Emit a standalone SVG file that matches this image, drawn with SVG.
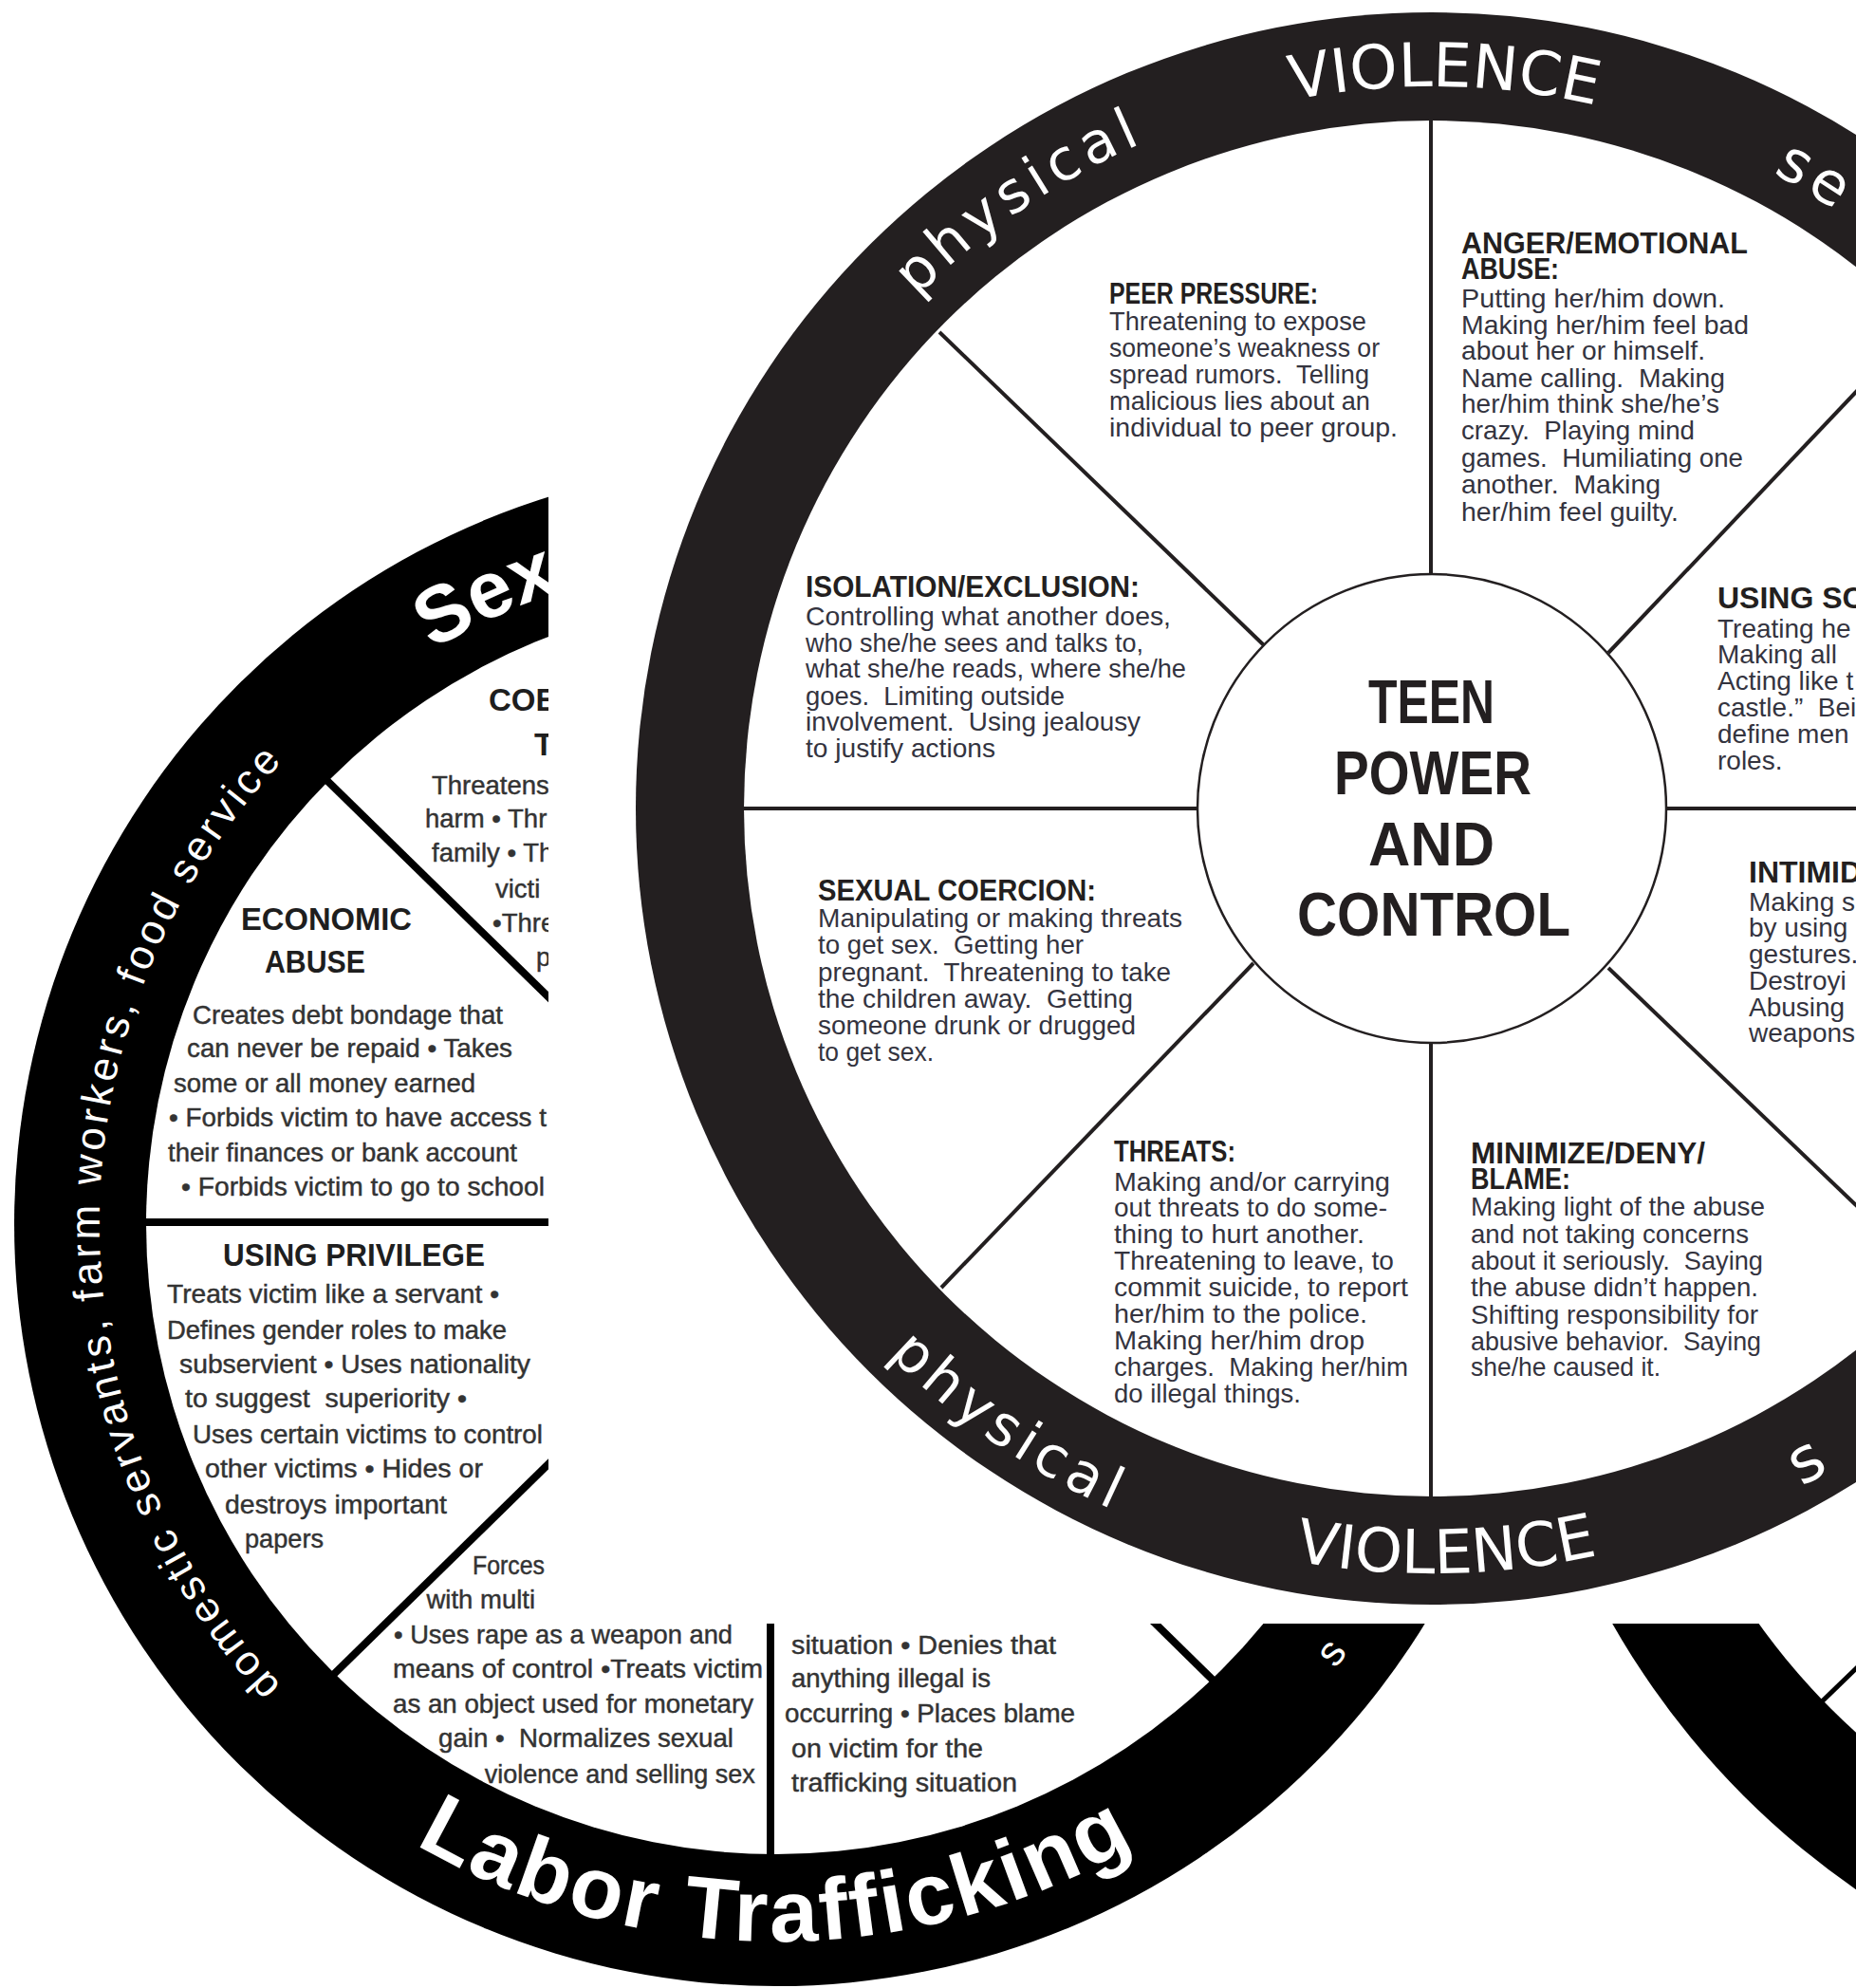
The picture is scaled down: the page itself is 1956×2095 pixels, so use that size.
<svg xmlns="http://www.w3.org/2000/svg" width="1956" height="2095" viewBox="0 0 1956 2095">
<defs>
<style>
text{font-family:"Liberation Sans",Arial,sans-serif;white-space:pre}
.lb{font-size:27.5px;fill:#333;stroke:#333;stroke-width:0.45}
.lh{font-size:33px;font-weight:bold;fill:#1e1e1e}
.tb{font-size:28px;fill:#34343f}
.th{font-size:32px;font-weight:bold;fill:#231f20}
.hub{font-size:65px;font-weight:bold;fill:#231f20}
.lring{fill:#fff}
.tring{font-family:"DejaVu Sans","Liberation Sans",sans-serif;fill:#fff}
.lsp{stroke:#000;stroke-width:8;fill:none}
.tsp{stroke:#231f20;stroke-width:4;fill:none}
</style>
<path id="p-lab" d="M 163.3 1668 A 756 756 0 0 0 1472.7 1668"/>
<path id="p-sex" d="M 456 685 A 705 705 0 0 1 1271.2 750"/>
<path id="p-dom" d="M 296.5 1776.3 A 713 713 0 0 1 574.1 620"/>
<path id="p-ls" d="M 1407.3 1758.7 A 753 753 0 0 0 1470.1 913.5"/>
<path id="p-tv1" d="M 856.7 460.1 A 761 761 0 0 1 2174.6 483.1"/>
<path id="p-tp1" d="M 746.1 908 A 765 765 0 0 1 1842 163.3"/>
<path id="p-tse" d="M 1868.2 182.2 A 760 760 0 0 1 2223.2 592.1"/>
<path id="p-tv2" d="M 818.8 1268.3 A 806 806 0 0 0 2214.7 1241.5"/>
<path id="p-tp2" d="M 699.5 788.3 A 812 812 0 0 0 1858.6 1584.9"/>
<path id="p-ts2" d="M 1898.7 1566.6 A 816 816 0 0 0 2312.6 993.7"/>
</defs>
<rect x="0" y="0" width="1956" height="2095" fill="#fff"/>

<!-- third wheel (bottom right, partial) -->
<g id="third-wheel">
<circle cx="2440" cy="1290" r="852" fill="#000"/>
<circle cx="2440" cy="1290" r="722" fill="#fff"/>
</g>
<g id="third-spokes">
<line x1="1914" y1="1799" x2="2100" y2="1619" stroke="#000" stroke-width="5"/>
</g>

<!-- labor trafficking wheel -->
<g id="labor-wheel">
<circle cx="818" cy="1290" r="803" fill="#000"/>
<circle cx="818" cy="1290" r="664" fill="#fff"/>
</g>
<g id="labor-spokes" class="lsp">
<line x1="340" y1="818" x2="700" y2="1170"/>
<line x1="150" y1="1288" x2="700" y2="1288"/>
<line x1="345" y1="1771" x2="640" y2="1482"/>
<line x1="812" y1="1690" x2="812" y2="1962"/>
<line x1="1180" y1="1674" x2="1290" y2="1782"/>
</g>
<g id="labor-ring-labels">
<text class="lring" font-size="92" font-weight="bold" letter-spacing="3"><textPath href="#p-lab" startOffset="50%" text-anchor="middle">Labor Trafficking</textPath></text>
<text class="lring" font-size="84" font-weight="bold"><textPath href="#p-sex">Sex</textPath></text>
<text class="lring" font-size="44" letter-spacing="4"><textPath href="#p-dom">domestic servants, farm workers, food service</textPath></text>
<text class="lring" font-size="44"><textPath href="#p-ls">s</textPath></text>
</g>
<g id="coercion-threats">
<text class="lh" x="515" y="749">COE</text>
<text class="lh" x="563" y="796">T</text>
<text class="lb" x="455" y="837">Threatens</text>
<text class="lb" x="448" y="872">harm • Thr</text>
<text class="lb" x="455" y="908">family • Th</text>
<text class="lb" x="522" y="946">victi</text>
<text class="lb" x="519" y="982">•Thre</text>
<text class="lb" x="565" y="1018">p</text>
</g>
<g id="economic-abuse">
<text class="lh" x="254" y="980" textLength="180" lengthAdjust="spacingAndGlyphs">ECONOMIC</text>
<text class="lh" x="279" y="1024.5" textLength="106" lengthAdjust="spacingAndGlyphs">ABUSE</text>
<text class="lb" x="203" y="1079" textLength="327" lengthAdjust="spacingAndGlyphs">Creates debt bondage that</text>
<text class="lb" x="197" y="1114" textLength="343" lengthAdjust="spacingAndGlyphs">can never be repaid • Takes</text>
<text class="lb" x="183" y="1151" textLength="318" lengthAdjust="spacingAndGlyphs">some or all money earned</text>
<text class="lb" x="178" y="1187" textLength="398" lengthAdjust="spacingAndGlyphs">• Forbids victim to have access t</text>
<text class="lb" x="177" y="1224" textLength="368" lengthAdjust="spacingAndGlyphs">their finances or bank account</text>
<text class="lb" x="191" y="1260" textLength="383" lengthAdjust="spacingAndGlyphs">• Forbids victim to go to school</text>
</g>
<g id="using-privilege">
<text class="lh" x="235" y="1333.5" textLength="276" lengthAdjust="spacingAndGlyphs">USING PRIVILEGE</text>
<text class="lb" x="176" y="1373" textLength="350" lengthAdjust="spacingAndGlyphs">Treats victim like a servant •</text>
<text class="lb" x="176" y="1410.6" textLength="358" lengthAdjust="spacingAndGlyphs">Defines gender roles to make</text>
<text class="lb" x="189" y="1446.7" textLength="370" lengthAdjust="spacingAndGlyphs">subservient • Uses nationality</text>
<text class="lb" x="195" y="1482.8" textLength="297" lengthAdjust="spacingAndGlyphs">to suggest  superiority •</text>
<text class="lb" x="203" y="1521" textLength="369" lengthAdjust="spacingAndGlyphs">Uses certain victims to control</text>
<text class="lb" x="216" y="1557" textLength="293" lengthAdjust="spacingAndGlyphs">other victims • Hides or</text>
<text class="lb" x="237" y="1594.8" textLength="234" lengthAdjust="spacingAndGlyphs">destroys important</text>
<text class="lb" x="258" y="1631" textLength="83" lengthAdjust="spacingAndGlyphs">papers</text>
</g>
<g id="sexual-abuse">
<text class="lb" x="498" y="1659" textLength="76" lengthAdjust="spacingAndGlyphs">Forces</text>
<text class="lb" x="449.5" y="1695">with multi</text>
<text class="lb" x="415" y="1731.7" textLength="357" lengthAdjust="spacingAndGlyphs">• Uses rape as a weapon and</text>
<text class="lb" x="414" y="1768" textLength="390" lengthAdjust="spacingAndGlyphs">means of control •Treats victim</text>
<text class="lb" x="414" y="1805" textLength="380" lengthAdjust="spacingAndGlyphs">as an object used for monetary</text>
<text class="lb" x="462" y="1840.7" textLength="311" lengthAdjust="spacingAndGlyphs">gain •  Normalizes sexual</text>
<text class="lb" x="510.7" y="1879" textLength="285" lengthAdjust="spacingAndGlyphs">violence and selling sex</text>
</g>
<g id="minimizing-blaming">
<text class="lb" x="834" y="1742.7" textLength="279" lengthAdjust="spacingAndGlyphs">situation • Denies that</text>
<text class="lb" x="834" y="1778" textLength="210" lengthAdjust="spacingAndGlyphs">anything illegal is</text>
<text class="lb" x="827" y="1815" textLength="306" lengthAdjust="spacingAndGlyphs">occurring • Places blame</text>
<text class="lb" x="834" y="1851.7" textLength="202" lengthAdjust="spacingAndGlyphs">on victim for the</text>
<text class="lb" x="834" y="1888" textLength="238" lengthAdjust="spacingAndGlyphs">trafficking situation</text>
</g>

<!-- overlay panel of the teen wheel -->
<rect x="578" y="0" width="1378" height="1711" fill="#fff"/>

<!-- teen power and control wheel -->
<g id="teen-wheel">
<circle cx="1509" cy="852" r="839" fill="#231f20"/>
<circle cx="1509" cy="852" r="725" fill="#fff"/>
</g>
<g id="teen-spokes" class="tsp">
<line x1="1508" y1="127" x2="1508" y2="606"/>
<line x1="1508" y1="1098" x2="1508" y2="1578"/>
<line x1="783" y1="852" x2="1263" y2="852"/>
<line x1="1755" y1="852" x2="2240" y2="852"/>
<line x1="990" y1="350" x2="1332" y2="680"/>
<line x1="1695" y1="688" x2="2030" y2="335"/>
<line x1="1321" y1="1015" x2="992" y2="1357"/>
<line x1="1695" y1="1020" x2="2030" y2="1341"/>
</g>
<g id="teen-hub">
<circle cx="1509" cy="852" r="247" fill="#fff" stroke="#231f20" stroke-width="2.5"/>
<text class="hub" x="1442" y="762" textLength="133" lengthAdjust="spacingAndGlyphs">TEEN</text>
<text class="hub" x="1406" y="837" textLength="208" lengthAdjust="spacingAndGlyphs">POWER</text>
<text class="hub" x="1442" y="912" textLength="133" lengthAdjust="spacingAndGlyphs">AND</text>
<text class="hub" x="1367" y="986" textLength="288" lengthAdjust="spacingAndGlyphs">CONTROL</text>
</g>
<g id="teen-ring-labels">
<text class="tring" font-size="64"><textPath href="#p-tv1" startOffset="50%" text-anchor="middle">VIOLENCE</textPath></text>
<text class="tring" font-size="64"><textPath href="#p-tv2" startOffset="50%" text-anchor="middle">VIOLENCE</textPath></text>
<text class="tring" font-size="60" letter-spacing="6"><textPath href="#p-tp1" startOffset="50%" text-anchor="middle">physical</textPath></text>
<text class="tring" font-size="60" letter-spacing="6"><textPath href="#p-tp2" startOffset="50%" text-anchor="middle">physical</textPath></text>
<text class="tring" font-size="62" letter-spacing="6"><textPath href="#p-tse">se</textPath></text>
<text class="tring" font-size="66"><textPath href="#p-ts2">s</textPath></text>
</g>
<g id="peer-pressure">
<text class="th" x="1169" y="320" textLength="220" lengthAdjust="spacingAndGlyphs">PEER PRESSURE:</text>
<text class="tb" x="1169" y="348" textLength="271" lengthAdjust="spacingAndGlyphs">Threatening to expose</text>
<text class="tb" x="1169" y="376" textLength="285" lengthAdjust="spacingAndGlyphs">someone’s weakness or</text>
<text class="tb" x="1169" y="404" textLength="274" lengthAdjust="spacingAndGlyphs">spread rumors.  Telling</text>
<text class="tb" x="1169" y="432" textLength="275" lengthAdjust="spacingAndGlyphs">malicious lies about an</text>
<text class="tb" x="1169" y="460" textLength="304" lengthAdjust="spacingAndGlyphs">individual to peer group.</text>
</g>
<g id="anger-emotional-abuse">
<text class="th" x="1540" y="267" textLength="302" lengthAdjust="spacingAndGlyphs">ANGER/EMOTIONAL</text>
<text class="th" x="1540" y="294" textLength="103" lengthAdjust="spacingAndGlyphs">ABUSE:</text>
<text class="tb" x="1540" y="324" textLength="278" lengthAdjust="spacingAndGlyphs">Putting her/him down.</text>
<text class="tb" x="1540" y="352" textLength="303" lengthAdjust="spacingAndGlyphs">Making her/him feel bad</text>
<text class="tb" x="1540" y="379" textLength="257" lengthAdjust="spacingAndGlyphs">about her or himself.</text>
<text class="tb" x="1540" y="407.6" textLength="278" lengthAdjust="spacingAndGlyphs">Name calling.  Making</text>
<text class="tb" x="1540" y="435" textLength="272" lengthAdjust="spacingAndGlyphs">her/him think she/he’s</text>
<text class="tb" x="1540" y="463" textLength="246" lengthAdjust="spacingAndGlyphs">crazy.  Playing mind</text>
<text class="tb" x="1540" y="491.6" textLength="297" lengthAdjust="spacingAndGlyphs">games.  Humiliating one</text>
<text class="tb" x="1540" y="520" textLength="210" lengthAdjust="spacingAndGlyphs">another.  Making</text>
<text class="tb" x="1540" y="548.5" textLength="229" lengthAdjust="spacingAndGlyphs">her/him feel guilty.</text>
</g>
<g id="using-social-status">
<text class="th" x="1810" y="641">USING SC</text>
<text class="tb" x="1810" y="672">Treating he</text>
<text class="tb" x="1810" y="699">Making all</text>
<text class="tb" x="1810" y="727">Acting like t</text>
<text class="tb" x="1810" y="755">castle.”  Bei</text>
<text class="tb" x="1810" y="783">define men</text>
<text class="tb" x="1810" y="811">roles.</text>
</g>
<g id="intimidation">
<text class="th" x="1843" y="929.5">INTIMID</text>
<text class="tb" x="1843" y="960">Making s</text>
<text class="tb" x="1843" y="987">by using</text>
<text class="tb" x="1843" y="1015">gestures.</text>
<text class="tb" x="1843" y="1043">Destroyi</text>
<text class="tb" x="1843" y="1071">Abusing</text>
<text class="tb" x="1843" y="1098">weapons</text>
</g>
<g id="minimize-deny-blame">
<text class="th" x="1550" y="1226" textLength="247" lengthAdjust="spacingAndGlyphs">MINIMIZE/DENY/</text>
<text class="th" x="1550" y="1253" textLength="105" lengthAdjust="spacingAndGlyphs">BLAME:</text>
<text class="tb" x="1550" y="1281" textLength="310" lengthAdjust="spacingAndGlyphs">Making light of the abuse</text>
<text class="tb" x="1550" y="1310" textLength="293" lengthAdjust="spacingAndGlyphs">and not taking concerns</text>
<text class="tb" x="1550" y="1338" textLength="308" lengthAdjust="spacingAndGlyphs">about it seriously.  Saying</text>
<text class="tb" x="1550" y="1366" textLength="303" lengthAdjust="spacingAndGlyphs">the abuse didn’t happen.</text>
<text class="tb" x="1550" y="1395" textLength="303" lengthAdjust="spacingAndGlyphs">Shifting responsibility for</text>
<text class="tb" x="1550" y="1423" textLength="306" lengthAdjust="spacingAndGlyphs">abusive behavior.  Saying</text>
<text class="tb" x="1550" y="1450" textLength="200" lengthAdjust="spacingAndGlyphs">she/he caused it.</text>
</g>
<g id="threats">
<text class="th" x="1174" y="1224" textLength="128" lengthAdjust="spacingAndGlyphs">THREATS:</text>
<text class="tb" x="1174" y="1255" textLength="291" lengthAdjust="spacingAndGlyphs">Making and/or carrying</text>
<text class="tb" x="1174" y="1282" textLength="288" lengthAdjust="spacingAndGlyphs">out threats to do some-</text>
<text class="tb" x="1174" y="1310" textLength="264" lengthAdjust="spacingAndGlyphs">thing to hurt another.</text>
<text class="tb" x="1174" y="1338" textLength="295" lengthAdjust="spacingAndGlyphs">Threatening to leave, to</text>
<text class="tb" x="1174" y="1366" textLength="310" lengthAdjust="spacingAndGlyphs">commit suicide, to report</text>
<text class="tb" x="1174" y="1394" textLength="267" lengthAdjust="spacingAndGlyphs">her/him to the police.</text>
<text class="tb" x="1174" y="1422" textLength="264" lengthAdjust="spacingAndGlyphs">Making her/him drop</text>
<text class="tb" x="1174" y="1450" textLength="310" lengthAdjust="spacingAndGlyphs">charges.  Making her/him</text>
<text class="tb" x="1174" y="1478" textLength="197" lengthAdjust="spacingAndGlyphs">do illegal things.</text>
</g>
<g id="sexual-coercion">
<text class="th" x="862" y="949" textLength="293" lengthAdjust="spacingAndGlyphs">SEXUAL COERCION:</text>
<text class="tb" x="862" y="977" textLength="384" lengthAdjust="spacingAndGlyphs">Manipulating or making threats</text>
<text class="tb" x="862" y="1005" textLength="280" lengthAdjust="spacingAndGlyphs">to get sex.  Getting her</text>
<text class="tb" x="862" y="1034" textLength="372" lengthAdjust="spacingAndGlyphs">pregnant.  Threatening to take</text>
<text class="tb" x="862" y="1062" textLength="332" lengthAdjust="spacingAndGlyphs">the children away.  Getting</text>
<text class="tb" x="862" y="1090" textLength="335" lengthAdjust="spacingAndGlyphs">someone drunk or drugged</text>
<text class="tb" x="862" y="1118" textLength="122" lengthAdjust="spacingAndGlyphs">to get sex.</text>
</g>
<g id="isolation-exclusion">
<text class="th" x="849" y="629" textLength="352" lengthAdjust="spacingAndGlyphs">ISOLATION/EXCLUSION:</text>
<text class="tb" x="849" y="658.5" textLength="385" lengthAdjust="spacingAndGlyphs">Controlling what another does,</text>
<text class="tb" x="849" y="687" textLength="356" lengthAdjust="spacingAndGlyphs">who she/he sees and talks to,</text>
<text class="tb" x="849" y="714" textLength="401" lengthAdjust="spacingAndGlyphs">what she/he reads, where she/he</text>
<text class="tb" x="849" y="742.5" textLength="273" lengthAdjust="spacingAndGlyphs">goes.  Limiting outside</text>
<text class="tb" x="849" y="770" textLength="353" lengthAdjust="spacingAndGlyphs">involvement.  Using jealousy</text>
<text class="tb" x="849" y="798" textLength="200" lengthAdjust="spacingAndGlyphs">to justify actions</text>
</g>
</svg>
